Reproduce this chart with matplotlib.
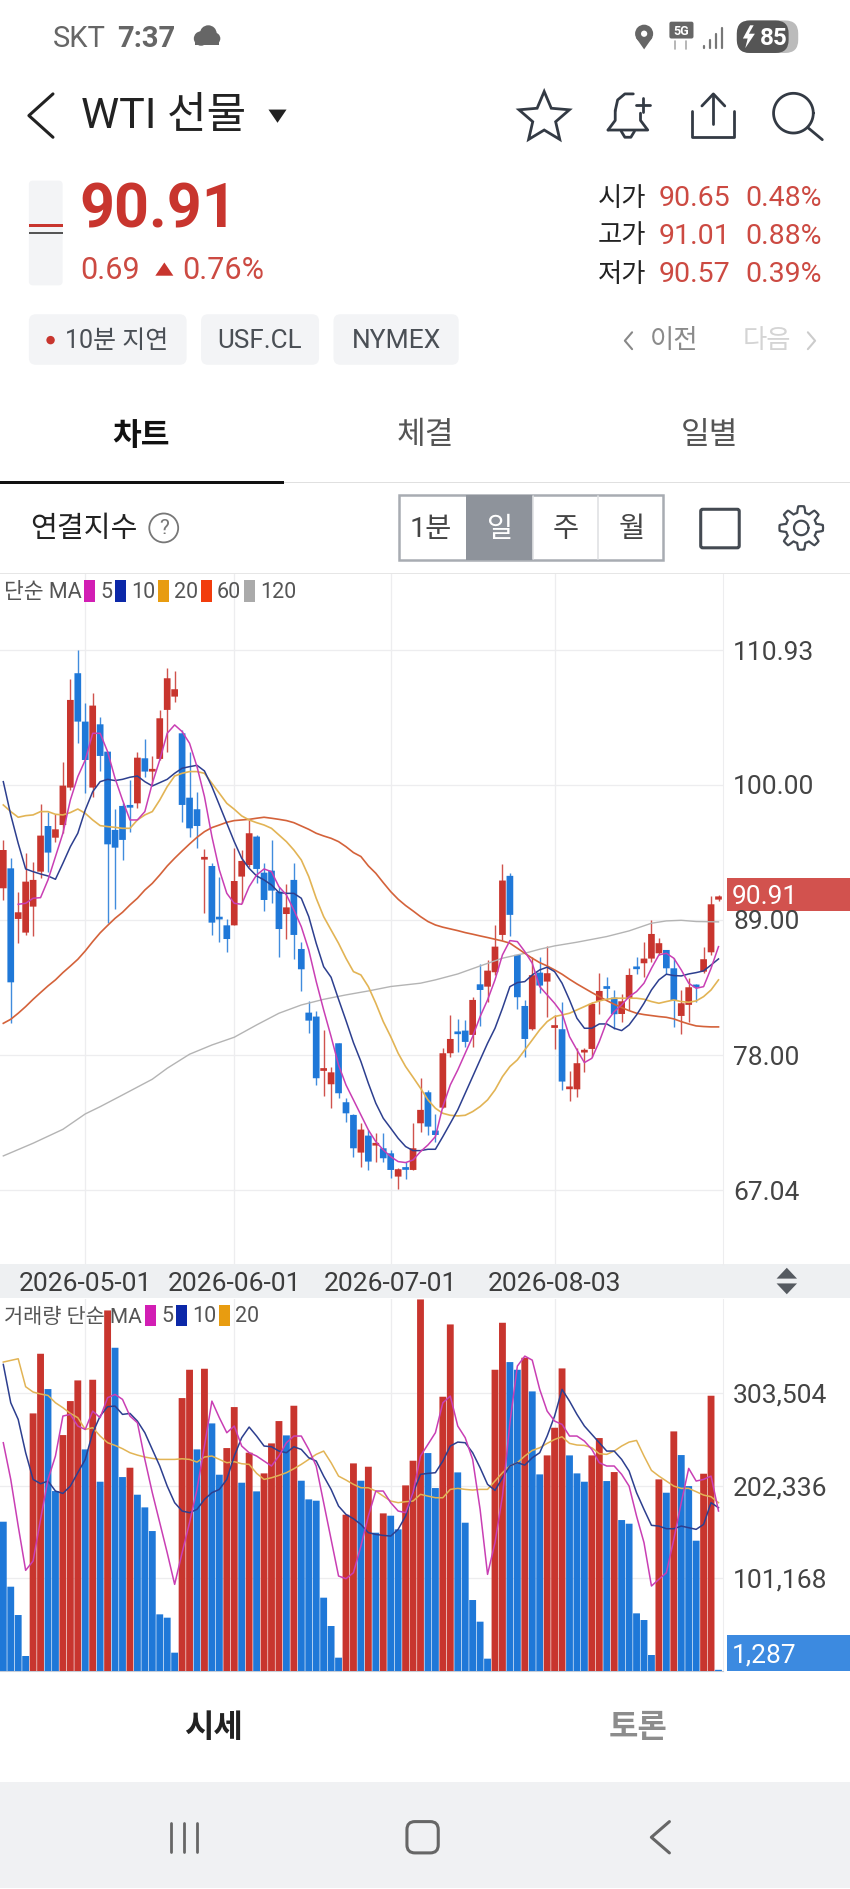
import matplotlib
matplotlib.use("Agg")
import matplotlib.pyplot as plt
from matplotlib.patches import Rectangle, FancyBboxPatch, Circle, Polygon
import numpy as np

plt.rcParams["font.family"] = ["Roboto", "Noto Sans CJK KR", "DejaVu Sans"]

# daily candles, oldest first
opens = [91.57, 93.19, 89.08, 87.97, 90.08, 92.92, 96.63, 95.68, 96.71, 99.75, 109.04, 105.11, 99.75, 104.89, 102.67, 96.31,
         98.26, 98.22, 98.47, 102.13, 101.05, 102.08, 106.06, 107.14, 104.16, 98.93, 97.99, 93.90, 93.38, 89.14, 88.56, 88.56,
         92.52, 93.46, 95.77, 92.84, 93.00, 91.30, 89.48, 92.25, 86.64, 81.47, 81.15, 76.74, 75.65, 78.98, 74.19, 73.16,
         70.10, 71.48, 70.67, 70.45, 70.04, 68.15, 68.80, 68.69, 72.48, 75.00, 71.89, 73.75, 78.17, 79.82, 80.01, 79.66,
         83.77, 83.58, 84.75, 87.78, 92.58, 86.16, 82.01, 80.12, 84.72, 83.99, 80.23, 80.12, 75.25, 75.24, 78.23, 78.52,
         82.42, 83.50, 82.69, 81.36, 82.64, 85.10, 85.48, 85.86, 86.29, 86.56, 85.07, 81.20, 82.10, 83.63, 84.80, 86.37, 90.65]
highs = [95.50, 94.01, 91.24, 94.47, 93.73, 98.39, 97.80, 97.58, 101.86, 108.55, 110.93, 106.60, 107.41, 105.51, 102.67, 97.99,
         98.47, 100.37, 102.67, 103.67, 102.35, 106.06, 109.44, 109.22, 104.43, 102.67, 99.42, 94.74, 93.65, 92.52, 89.05, 94.82,
         94.68, 97.12, 95.90, 93.60, 95.50, 91.70, 91.89, 93.65, 87.24, 82.45, 81.63, 80.06, 77.03, 78.98, 74.51, 73.21,
         72.54, 71.94, 71.67, 71.67, 70.32, 68.83, 69.37, 72.54, 76.14, 75.19, 73.24, 78.57, 81.28, 80.96, 80.88, 82.77,
         85.40, 85.75, 88.59, 93.55, 92.85, 86.16, 82.50, 86.02, 85.97, 86.89, 81.28, 82.31, 76.73, 78.57, 78.57, 82.37,
         84.67, 84.40, 83.31, 82.99, 85.07, 85.97, 87.24, 89.00, 87.51, 86.56, 85.89, 83.31, 84.26, 83.80, 86.83, 90.98, 91.01]
lows = [90.62, 80.66, 87.10, 87.78, 87.72, 92.38, 92.92, 95.36, 96.04, 99.56, 103.35, 99.34, 99.02, 101.10, 88.73, 89.86,
        93.87, 96.17, 98.07, 100.64, 99.96, 101.99, 102.67, 106.73, 96.98, 95.77, 94.82, 89.54, 87.78, 87.18, 86.42, 88.56,
        90.35, 93.33, 91.97, 89.75, 90.40, 86.02, 87.45, 85.80, 83.25, 79.79, 75.59, 74.70, 73.70, 74.57, 72.56, 69.72,
        68.96, 68.69, 69.37, 69.37, 68.01, 67.12, 67.93, 68.69, 71.80, 71.53, 70.99, 73.70, 77.90, 78.30, 78.66, 78.71,
        80.39, 82.37, 84.53, 87.38, 87.73, 81.74, 77.90, 80.06, 83.10, 81.15, 78.49, 75.19, 74.32, 74.65, 76.68, 77.90,
        81.36, 82.56, 80.15, 80.74, 81.69, 84.61, 84.40, 85.62, 86.16, 84.59, 80.28, 79.74, 80.74, 82.31, 84.67, 86.16, 90.57]
closes = [94.68, 83.93, 89.62, 92.11, 92.25, 95.85, 94.47, 96.36, 99.91, 106.87, 105.11, 101.99, 106.41, 102.32, 95.14, 94.87,
          95.50, 98.12, 102.18, 101.05, 101.15, 105.38, 108.63, 107.74, 98.34, 96.44, 96.63, 94.00, 88.78, 89.04, 87.45, 92.16,
          93.79, 96.04, 93.14, 90.62, 91.38, 88.26, 90.02, 87.78, 84.99, 80.82, 76.14, 76.84, 76.62, 74.92, 73.29, 70.45,
          71.97, 69.37, 70.77, 69.64, 68.69, 68.75, 68.70, 70.45, 73.57, 72.21, 71.53, 78.17, 79.33, 79.72, 79.09, 82.50,
          83.31, 84.88, 86.83, 92.20, 89.41, 82.72, 79.33, 84.51, 83.67, 84.67, 80.33, 75.87, 75.35, 77.36, 78.33, 82.18,
          83.23, 83.40, 81.34, 82.39, 84.53, 85.00, 85.86, 87.86, 87.11, 85.07, 82.45, 82.23, 83.53, 83.53, 85.81, 90.27, 90.91]

ma5 = [90.27, 90.35, 90.76, 90.81, 92.25, 94.14, 96.04, 98.74, 100.64, 101.99, 104.16, 104.16, 102.67, 100.50, 98.74, 97.12,
       97.12, 97.80, 100.10, 101.99, 104.16, 104.84, 104.30, 103.35, 101.45, 99.02, 95.77, 93.06, 91.16, 90.35, 90.27, 91.70,
       92.65, 93.14, 92.92, 91.70, 91.03, 89.81, 88.45, 86.56, 84.00, 81.69, 79.52, 77.22, 75.59, 74.38, 73.16, 71.94,
       70.99, 70.32, 69.77, 69.37, 69.29, 69.50, 70.18, 70.72, 71.40, 73.84, 75.60, 76.81, 78.17, 79.52, 81.15, 82.50,
       84.13, 86.16, 87.32, 87.24, 86.43, 85.48, 83.58, 82.91, 82.23, 81.42, 79.52, 78.44, 77.41, 77.76, 79.12, 80.74,
       81.55, 82.10, 82.77, 83.18, 83.86, 85.07, 86.16, 86.29, 85.89, 84.94, 83.86, 83.45, 83.58, 85.07, 86.83]
ma5_idx = list(range(2, 97))
ma10 = [100.23, 97.53, 95.22, 93.14, 92.92, 92.73, 92.57, 92.30, 93.60, 94.95, 96.04, 97.93, 99.42, 100.23, 100.42, 100.32,
        100.42, 100.59, 100.69, 100.23, 99.88, 100.15, 100.42, 100.91, 101.32, 101.45, 101.56, 101.10, 99.83, 98.34, 96.85, 95.36,
        94.01, 93.19, 92.57, 92.25, 91.84, 91.22, 91.16, 91.16, 90.76, 89.27, 87.10, 85.20, 84.34, 82.55, 80.82, 79.03,
        77.50, 75.73, 74.11, 72.89, 72.08, 71.26, 70.59, 70.26, 70.26, 70.37, 70.37, 71.40, 72.48, 73.57, 74.92, 76.27,
        77.63, 78.98, 80.20, 81.82, 83.58, 83.91, 83.99, 84.53, 84.94, 85.16, 84.80, 83.86, 82.50, 81.01, 80.20, 80.20,
        80.55, 80.55, 80.20, 80.01, 80.47, 81.28, 82.23, 83.31, 84.13, 84.59, 84.48, 84.45, 84.61, 84.72, 84.86, 85.34, 85.83]
ma20 = [98.34, 97.80, 97.34, 97.47, 97.53, 97.80, 97.80, 97.58, 97.53, 97.72, 98.01, 97.66, 97.12, 96.66, 96.58, 96.52,
        96.44, 96.44, 97.12, 97.53, 97.80, 98.74, 99.83, 100.69, 100.91, 101.05, 101.05, 100.91, 100.10, 99.29, 98.47, 97.99,
        97.45, 97.12, 96.90, 96.71, 96.44, 95.90, 95.36, 94.68, 93.87, 92.52, 90.76, 89.27, 88.18, 87.10, 85.88, 84.80,
        84.53, 83.58, 82.23, 80.74, 79.52, 78.17, 77.09, 76.22, 75.33, 74.38, 73.70, 73.29, 73.13, 73.08, 73.13, 73.43,
        73.84, 74.38, 75.19, 76.27, 77.09, 77.63, 78.44, 79.25, 80.07, 80.74, 81.15, 81.28, 81.42, 81.69, 81.96, 82.23,
        82.42, 82.56, 82.64, 82.64, 82.64, 82.64, 82.56, 82.37, 82.23, 82.37, 82.50, 82.37, 82.31, 82.42, 82.77, 83.31, 84.13]
ma60 = [80.60, 80.93, 81.42, 81.96, 82.55, 83.10, 83.64, 84.13, 84.72, 85.25, 85.80, 86.48, 87.24, 87.95, 88.55, 89.13,
        89.62, 90.22, 90.76, 91.43, 91.97, 92.65, 93.38, 94.01, 94.60, 95.17, 95.71, 96.17, 96.50, 96.71, 96.93, 97.07,
        97.12, 97.17, 97.26, 97.34, 97.26, 97.17, 97.07, 96.90, 96.63, 96.36, 96.04, 95.82, 95.63, 95.36, 94.95, 94.47,
        94.15, 93.39, 92.79, 92.03, 91.30, 90.68, 90.17, 89.73, 89.27, 88.87, 88.59, 88.41, 88.27, 88.13, 87.97, 87.84,
        87.70, 87.57, 87.43, 87.29, 87.11, 86.70, 86.29, 85.89, 85.53, 85.26, 84.94, 84.59, 84.18, 83.80, 83.45, 83.10,
        82.77, 82.45, 82.15, 81.88, 81.63, 81.42, 81.31, 81.23, 81.15, 81.09, 80.96, 80.74, 80.55, 80.39, 80.34, 80.31, 80.31]
ma120_idx = [0, 4, 8, 11, 13, 16, 20, 22, 25, 28, 31, 34, 37, 40, 43, 46, 49, 52, 56, 58, 61, 64, 67, 70, 72, 74, 77, 81, 84, 87, 89, 91, 93, 96]
ma120 = [69.83, 70.86, 71.99, 73.24, 73.83, 74.78, 76.06, 76.95, 78.09, 78.84, 79.47, 80.47, 81.42, 82.09, 82.55, 82.91, 83.23,
         83.59, 83.86, 84.13, 84.61, 85.26, 85.89, 86.29, 86.62, 86.89, 87.19, 87.65, 88.11, 88.73, 88.92, 88.97, 88.87, 88.84]

volumes = [162848, 91966, 61068, 16358, 280986, 346052, 307521, 196290, 257358, 294435, 316972, 241728, 317699, 206468, 393307, 352595,
           211557, 221735, 192292, 178479, 152670, 61795, 58160, 19993, 297707, 328604, 241728, 329695, 270081, 214102, 243182, 287892,
           205378, 238093, 195927, 215556, 248271, 272625, 256995, 289346, 207559, 187203, 185749, 79970, 49073, 14540, 170482, 226461,
           207559, 222826, 150853, 171936, 169391, 154488, 202470, 229369, 405303, 237729, 199562, 299161, 378040, 216646, 161758, 77426,
           53798, 13450, 328604, 379858, 336965, 328604, 341690, 304977, 214465, 235185, 265355, 330058, 235185, 215556, 206468, 235185,
           254087, 207195, 217010, 164666, 160667, 62886, 55616, 17448, 209013, 194473, 261357, 235548, 201743, 142129, 215192, 300251, 1287]
vol_ma5 = [249000, 209000, 158100, 109800, 120000, 165400, 209000, 234500, 278100, 279900, 267200, 263500, 283500, 276300, 298100, 301700,
           296300, 278100, 270800, 230800, 194500, 161800, 129000, 94500, 129000, 161800, 198100, 245400, 294400, 276300, 259900, 267200,
           245400, 238100, 234500, 229000, 223600, 234500, 249000, 256300, 256300, 241700, 223600, 183600, 143600, 103600, 100700, 107200,
           136300, 169000, 196300, 196300, 183600, 174500, 172700, 194500, 234500, 247200, 259900, 292600, 299900, 267200, 254500, 230800,
           176300, 105400, 140000, 190800, 270800, 332600, 343500, 339100, 307200, 283500, 272600, 269000, 256300, 256300, 250800, 241700,
           227200, 223600, 223600, 214500, 201700, 169000, 140000, 92700, 100000, 107200, 143600, 183600, 221000, 207200, 209000, 212600, 174500]
vol_ma10 = [334400, 292600, 274400, 238100, 209000, 204300, 207200, 196300, 193700, 201700, 216300, 230800, 259900, 278100, 288300, 289000,
            279900, 281000, 272600, 259900, 241700, 223600, 201700, 183600, 174500, 172700, 176300, 187200, 194500, 198100, 209000, 234500,
            254500, 266100, 256300, 245400, 244600, 239900, 238100, 244600, 241700, 232600, 229000, 212600, 198100, 179900, 170800, 166100,
            159900, 150900, 149000, 147900, 147200, 154500, 169000, 194500, 214500, 215600, 216300, 229000, 245400, 249700, 249000, 238100,
            221700, 203600, 197000, 210800, 223600, 227200, 224600, 232600, 238100, 256300, 278100, 307200, 294400, 279900, 267200, 258100,
            249000, 239900, 239900, 230800, 218100, 194500, 176300, 158900, 158100, 155200, 155200, 158100, 156300, 154500, 159900, 183600, 178100]
vol_ma20 = [337000, 338800, 340600, 310100, 304300, 302100, 300600, 292600, 287200, 281000, 276300, 263500, 265400, 256300, 249000, 246100,
            242500, 238100, 235500, 233400, 231900, 230800, 230800, 230800, 231500, 230800, 227900, 233400, 234500, 230800, 227200, 228300,
            226100, 225400, 215600, 209000, 210800, 213400, 216300, 220600, 225400, 230800, 236300, 239900, 227200, 212600, 208300, 203600,
            199900, 199900, 196300, 190800, 185400, 183600, 184700, 185400, 192700, 190800, 189000, 189000, 198100, 199200, 198100, 197400,
            198100, 198100, 207200, 216300, 223600, 227200, 234500, 240600, 243500, 248300, 252600, 255500, 248300, 246500, 246100, 243500,
            237000, 236300, 239900, 245400, 249700, 251500, 234500, 218800, 212600, 207200, 201700, 199200, 199200, 195600, 191900, 190100, 183600]

price_ticks = [110.93, 100.00, 89.00, 78.00, 67.04]
price_tick_labels = ["110.93", "100.00", "89.00", "78.00", "67.04"]
vol_ticks = [303504, 202336, 101168]
vol_tick_labels = ["303,504", "202,336", "101,168"]
date_idx = [11, 31, 52, 74]
date_labels = ["2026-05-01", "2026-06-01", "2026-07-01", "2026-08-03"]

RED = "#c8352e"
BLUE = "#1f78d8"
GRID = "#ededef"
C5, C10, C20, C60, C120 = "#c93fb4", "#2d3f8f", "#e2b455", "#d4623a", "#b4b4b4"

W, H = 850, 1889
S = 850 / 706
fig = plt.figure(figsize=(W / 100, H / 100), dpi=100, facecolor="white")

# overlay in pixels for the phone screen around the charts
bg = fig.add_axes([0, 0, 1, 1], zorder=0)
bg.set_xlim(0, W)
bg.set_ylim(H, 0)
bg.axis("off")
top = fig.add_axes([0, 0, 1, 1], zorder=5)
top.set_xlim(0, W)
top.set_ylim(H, 0)
top.axis("off")
top.patch.set_alpha(0)


def txt(x, y, s, size, color="#222222", ha="left", weight="normal", ax=top):
    ax.text(x * S, y * S + 2.5, s, fontsize=size, color=color, ha=ha, va="center", fontweight=weight)


def line(xs, ys, color="#333333", lw=1.8, ax=top):
    ax.plot(np.array(xs) * S, np.array(ys) * S, color=color, lw=lw, solid_capstyle="round", solid_joinstyle="round")


def rrect(x0, y0, x1, y1, fc, ec="none", r=5, lw=1, ax=top):
    ax.add_patch(FancyBboxPatch((x0 * S + r, y0 * S + r), (x1 - x0) * S - 2 * r, (y1 - y0) * S - 2 * r,
                                boxstyle=f"round,pad={r}", fc=fc, ec=ec, lw=lw))


# price chart
left_i = -3.3 / 7.45
right_i = (723 - 3.3) / 7.45
ax = fig.add_axes([0, 1 - 1264 / H, 723 / W, (1264 - 574) / H], zorder=2)
ax.set_xlim(left_i, right_i)
ax.set_ylim(61.05, 117.10)
idx = np.arange(len(opens))
for i in idx:
    col = RED if closes[i] >= opens[i] else BLUE
    if i in (17, 29, 54, 61, 81, 85, 93):
        col = BLUE
    ax.vlines(i, lows[i], highs[i], color=col, lw=1.0, alpha=0.85, zorder=3)
    h = abs(closes[i] - opens[i])
    bars = ax.bar(i, max(h, 0.22), bottom=min(opens[i], closes[i]), width=0.9, color=col, zorder=3)
    bars[0].set_snap(False)
ax.plot(ma120_idx, ma120, color=C120, lw=1.0, zorder=4)
ax.plot(idx, ma60, color=C60, lw=1.2, zorder=4)
ax.plot(idx, ma20, color=C20, lw=1.2, zorder=4)
ax.plot(idx, ma10, color=C10, lw=1.1, zorder=4)
ax.plot(ma5_idx, ma5, color=C5, lw=1.1, zorder=4)
ax.set_yticks(price_ticks)
ax.set_xticks(date_idx)
ax.grid(True, color=GRID, lw=0.95, zorder=0)
ax.tick_params(left=False, bottom=False, labelleft=False, labelbottom=False)
for k, sp in ax.spines.items():
    sp.set_visible(k == "right")
ax.spines["right"].set_color(GRID)
ax.set_axisbelow(True)

# volume chart
vax = fig.add_axes([0, 1 - 1671 / H, 723 / W, (1671 - 1299) / H], zorder=2)
vax.set_xlim(left_i, right_i)
vax.set_ylim(0, 405780)
vol_cols = [BLUE] + [RED if volumes[i] > volumes[i - 1] else BLUE for i in range(1, len(volumes))]
for b in vax.bar(idx, volumes, width=0.92, color=vol_cols, zorder=3):
    b.set_snap(False)
vax.plot(idx, vol_ma20, color=C20, lw=1.1, zorder=4)
vax.plot(idx, vol_ma10, color=C10, lw=1.1, zorder=4)
vax.plot(idx, vol_ma5, color=C5, lw=1.1, zorder=4)
vax.set_yticks(vol_ticks)
vax.set_xticks(date_idx)
vax.grid(True, color=GRID, lw=0.95, zorder=0)
vax.tick_params(left=False, bottom=False, labelleft=False, labelbottom=False)
for k, sp in vax.spines.items():
    sp.set_visible(k in ("right", "bottom"))
vax.spines["right"].set_color(GRID)
vax.spines["bottom"].set_color("#c4ccd8")
vax.set_axisbelow(True)

# price / volume axis labels
for p, lab in zip(price_ticks, price_tick_labels):
    top.text(609 * S, 652.5 + (110.93 - p) * 12.31, lab, fontsize=19, color="#444444", va="center")
for v, lab in zip(vol_ticks, vol_tick_labels):
    top.text(609 * S, 1673.6 - v * 0.000917, lab, fontsize=19, color="#444444", va="center")
top.add_patch(Rectangle((604 * S, 729 * S), 102 * S, 28 * S, fc="#d2524e", ec="none"))
txt(608, 743, "90.91", 19, "white")
top.add_patch(Rectangle((604 * S, 1358 * S), 102 * S, 30 * S, fc="#3c8ae0", ec="none"))
txt(608, 1373, "1,287", 19, "white")

# date strip
bg.add_patch(Rectangle((0, 1050 * S), W, 28.5 * S, fc="#eef0f2", ec="none"))
for i, lab in zip(date_idx, date_labels):
    top.text(3.3 + 7.45 * i, 1064 * S + 2.5, lab, fontsize=19, color="#3c3c3c", ha="center", va="center")
top.add_patch(Polygon(np.array([[645, 1062], [662, 1062], [653.5, 1053]]) * S, fc="#555a60", ec="none"))
top.add_patch(Polygon(np.array([[645, 1066], [662, 1066], [653.5, 1075]]) * S, fc="#555a60", ec="none"))

# legends
LEG = "#555555"
top.text(4, 592, "단순 MA", fontsize=15.5, color=LEG, va="center")
for x0, c, lab in [(84, "#d21eb4", "5"), (115, "#0c28a8", "10"), (158, "#e89c10", "20"), (201, "#f23c0c", "60"), (244, "#aaaaaa", "120")]:
    top.add_patch(Rectangle((x0, 580), 11, 22, fc=c, ec="none"))
    top.text(x0 + 16, 592, lab, fontsize=15.5, color=LEG, va="center")
top.text(4, 1317, "거래량 단순 MA", fontsize=15, color=LEG, va="center")
for x0, c, lab in [(145, "#d21eb4", "5"), (176, "#0c28a8", "10"), (219, "#e89c10", "20")]:
    top.add_patch(Rectangle((x0, 1305), 11, 21, fc=c, ec="none"))
    top.text(x0 + 16, 1317, lab, fontsize=15.5, color=LEG, va="center")

# status bar
txt(44, 30, "SKT", 21, "#666666")
txt(97, 30, "7:37", 21, "#666666", weight="bold")
for cx, cy, r in [(167, 32, 6), (173, 28, 7), (178, 32, 5)]:
    top.add_patch(Circle((cx * S, cy * S), r * S, fc="#666666", ec="none"))
top.add_patch(Rectangle((162 * S, 31 * S), 20 * S, 6 * S, fc="#666666", ec="none"))
top.add_patch(Circle((535 * S, 28 * S), 7.5 * S, fc="#666666", ec="none"))
top.add_patch(Polygon(np.array([[528, 31], [542, 31], [535, 41]]) * S, fc="#666666", ec="none"))
top.add_patch(Circle((535 * S, 28 * S), 2.6 * S, fc="white", ec="none"))
rrect(556, 18, 576, 32, "#666666", r=2)
txt(566, 24, "5G", 9, "white", ha="center", weight="bold")
line([561, 561], [34, 41], "#aaaaaa", 1.2)
line([570, 570], [34, 41], "#aaaaaa", 1.2)
for k, x0 in enumerate([585, 590, 595, 600]):
    line([x0, x0], [38 - 5 * k, 40], "#777777", 1.6)
rrect(612, 17, 663, 44, "#bbbbbb", r=13)
rrect(612, 17, 655, 44, "#555555", r=13)
top.add_patch(Polygon(np.array([[623, 21], [617, 32], [621, 32], [619, 40], [627, 28], [622, 28], [626, 21]]) * S, fc="white", ec="none"))
txt(631, 29.5, "85", 17.5, "white", weight="bold")

# header
line([44, 24, 44], [78, 96, 114], "#222222", 2.2)
txt(67, 95, "WTI 선물", 31, "#222222")
top.add_patch(Polygon(np.array([[223, 91], [238, 91], [230.5, 102]]) * S, fc="#222222", ec="none"))
ang = np.arange(10) * np.pi / 5 - np.pi / 2
rad = np.where(np.arange(10) % 2 == 0, 22, 10)
top.add_patch(Polygon(np.c_[452 + rad * np.cos(ang), 98 + rad * np.sin(ang)] * S, fc="none", ec="#333a44", lw=2))
# bell
line([505, 511, 511], [108, 100, 92], "#333a44", 2)
line([511, 513, 519, 526], [92, 83, 78, 78], "#333a44", 2)
line([505, 538, 532, 532], [108, 108, 100, 94], "#333a44", 2)
line([516, 519, 524, 527], [109, 114, 114, 109], "#333a44", 2)
line([534, 534], [81, 93], "#333a44", 2)
line([528, 540], [87, 87], "#333a44", 2)
# share
line([575, 575, 610, 610], [92, 114, 114, 92], "#333a44", 2)
line([592.5, 592.5], [79, 103], "#333a44", 2)
line([583, 592.5, 602], [88, 78, 88], "#333a44", 2)
# search
th = np.linspace(0, 2 * np.pi, 60)
line(659 + 16.5 * np.cos(th), 94 + 16.5 * np.sin(th), "#333a44", 2)
line([671, 683], [106, 116], "#333a44", 2)

# quote block
rrect(24, 150, 52, 237, "#f3f4f6", r=4)
top.add_patch(Rectangle((24 * S, 186 * S), 28 * S, 2.5 * S, fc=RED, ec="none"))
top.add_patch(Rectangle((24 * S, 193 * S), 28 * S, 1 * S, fc="#555555", ec="none"))
txt(66, 173, "90.91", 44, RED, weight="bold")
txt(67, 223, "0.69", 22, "#cc4a42")
top.add_patch(Polygon(np.array([[129, 229], [144, 229], [136.5, 218]]) * S, fc=RED, ec="none"))
txt(151, 223, "0.76%", 22, "#cc4a42")
for y0, lab, a, b in [(163, "시가", "90.65", "0.48%"), (194, "고가", "91.01", "0.88%"), (226, "저가", "90.57", "0.39%")]:
    txt(537, y0, lab, 19, "#222222", ha="right")
    txt(607, y0, a, 20.5, "#cc4a42", ha="right")
    txt(683, y0, b, 20.5, "#cc4a42", ha="right")

# chips
rrect(24, 261, 155, 303, "#f3f4f6", r=7)
rrect(167, 261, 265, 303, "#f3f4f6", r=7)
rrect(277, 261, 381, 303, "#f3f4f6", r=7)
top.add_patch(Circle((42 * S, 282.5 * S), 3.5 * S, fc=RED, ec="none"))
txt(54, 281.5, "10분 지연", 18, "#4a4f55")
txt(216, 281.5, "USF.CL", 18.7, "#4a4f55", ha="center")
txt(329, 281.5, "NYMEX", 19, "#4a4f55", ha="center")
line([525, 519, 525], [276, 283, 290], "#888888", 1.5)
txt(540, 281.5, "이전", 19, "#8a8a8a")
txt(617, 281.5, "다음", 19, "#d4d4d4")
line([671, 677, 671], [276, 283, 290], "#cccccc", 1.5)

# tabs
txt(117, 360, "차트", 22.5, "#111111", ha="center", weight="bold")
txt(353, 360, "체결", 22.5, "#555555", ha="center")
txt(589, 360, "일별", 22.5, "#555555", ha="center")
top.add_patch(Rectangle((0, 400.5 * S), W, 1.2, fc="#e0e0e0", ec="none"))
top.add_patch(Rectangle((0, 399.8 * S), 236 * S, 2.6, fc="#111111", ec="none"))

# period row
txt(25, 437.5, "연결지수", 21, "#222222")
top.add_patch(Circle((136 * S, 438.5 * S), 12 * S, fc="none", ec="#777777", lw=1.3))
txt(136, 437, "?", 15, "#777777", ha="center")
top.add_patch(Rectangle((331 * S, 411 * S), 220 * S, 54 * S, fc="white", ec="#a8acb2", lw=1.8))
top.add_patch(Rectangle((387 * S, 411 * S), 56 * S, 54 * S, fc="#8e939b", ec="none"))
line([497, 497], [412, 464], "#e0e2e4", 1.2)
line([443, 443], [412, 464], "#e0e2e4", 1.2)
txt(358, 437.5, "1분", 20.5, "#444444", ha="center")
txt(415, 437.5, "일", 20.5, "white", ha="center")
txt(470, 437.5, "주", 20.5, "#444444", ha="center")
txt(525, 437.5, "월", 20.5, "#444444", ha="center")
rrect(582, 423, 614, 455, "none", ec="#444a52", r=2, lw=2.2)
# gear
t = np.linspace(0, 2 * np.pi, 241)
gr = 15.5 + 2.6 * np.clip(2.2 * np.cos(8 * t), -1, 1)
line(665.5 + gr * np.cos(t), 438.5 + gr * np.sin(t), "#444a52", 1.6)
line(665.5 + 6 * np.cos(t), 438.5 + 6 * np.sin(t), "#444a52", 1.6)
top.add_patch(Rectangle((0, 476 * S), W, 1.2, fc="#e6e6e6", ec="none"))

# bottom tabs and nav bar
txt(177, 1433, "시세", 23, "#222222", ha="center", weight="bold")
txt(530, 1433, "토론", 23, "#8c8c8c", ha="center", weight="bold")
bg.add_patch(Rectangle((0, 1480 * S), W, (1568 - 1480) * S, fc="#f0f1f3", ec="none"))
for x0 in (142, 153, 164):
    line([x0, x0], [1514, 1538], "#666666", 2)
rrect(338, 1513, 364, 1539, "none", ec="#666666", r=8, lw=2.2)
line([556, 541, 556], [1513, 1526, 1539], "#666666", 2.2)

fig.savefig("out.png", dpi=100, facecolor="white")
